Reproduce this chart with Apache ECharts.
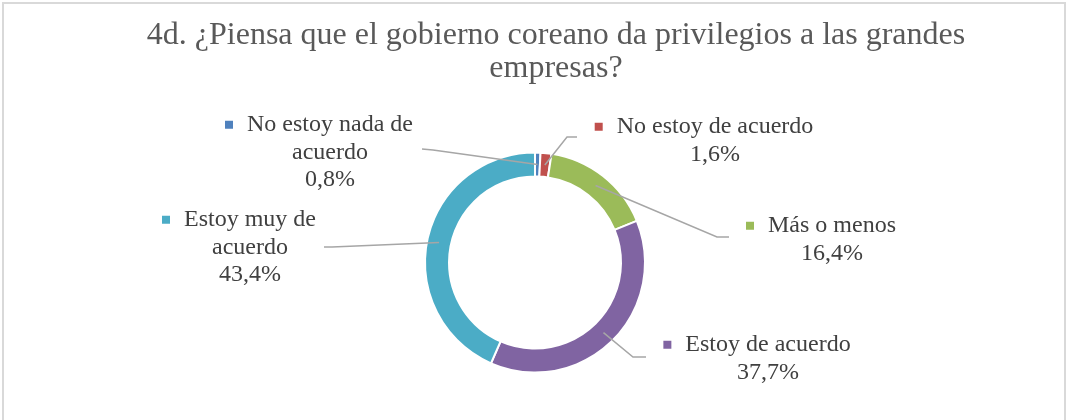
<!DOCTYPE html>
<html>
<head>
<meta charset="utf-8">
<script src="https://cdn.jsdelivr.net/npm/echarts@6/dist/echarts.min.js"></script>
<style>
  html, body { margin: 0; padding: 0; background: #fff; }
  #chart { width: 1067px; height: 420px; }
</style>
</head>
<body>
<div id="chart"></div>
<script>
  // 数据
  var categories = ['No estoy nada de acuerdo', 'No estoy de acuerdo', 'Más o menos', 'Estoy de acuerdo', 'Estoy muy de acuerdo'];
  var values = [0.8, 1.6, 16.4, 37.7, 43.4];
  // how each category name wraps in the label
  var nameLines = [['No estoy nada de', 'acuerdo'], ['No estoy de acuerdo'], ['Más o menos'], ['Estoy de acuerdo'], ['Estoy muy de', 'acuerdo']];
  var colors = ['#4F81BD', '#C0504D', '#9BBB59', '#8064A2', '#4BACC6'];

  // label placement: text centre x, text top y, leader bend + end
  var labelSpots = [
    { x: 330, y: 111, bend: [433, 150], end: [422, 149] },
    { x: 715, y: 113, bend: [567, 137], end: [577, 137] },
    { x: 832, y: 212, bend: [717, 237], end: [729, 237] },
    { x: 768, y: 331, bend: [633, 357], end: [646, 357] },
    { x: 250, y: 206, bend: [332, 247], end: [324, 247] }
  ];

  var CX = 535, CY = 262.5, R_IN = 86, R_OUT = 110;

  var ringData = categories.map(function (name, i) {
    return { name: name, value: values[i], itemStyle: { color: colors[i] } };
  });

  var labelData = categories.map(function (name, i) {
    var txt = nameLines[i].map(function (l, k) {
      return k === 0 ? '{sq|}{g|}{t|' + l + '}{pad|}' : '{t|' + l + '}';
    });
    txt.push('{t|' + values[i].toFixed(1).replace('.', ',') + '%}');
    return {
      name: name,
      value: values[i],
      label: {
        formatter: txt.join('\n'),
        rich: {
          sq: { width: 8, height: 8, backgroundColor: colors[i], verticalAlign: 'middle' },
          g: { width: 14 },
          pad: { width: 22 },
          t: { fontSize: 24, lineHeight: 27.5, color: '#404040', fontFamily: 'Liberation Serif' }
        }
      }
    };
  });

  var chart = echarts.init(document.getElementById('chart'));
  chart.setOption({
    animation: false,
    graphic: [{
      type: 'rect',
      shape: { x: 3, y: 3, width: 1062, height: 430 },
      style: { fill: 'none', stroke: '#d9d9d9', lineWidth: 2 },
      silent: true
    }],
    title: {
      text: '4d. ¿Piensa que el gobierno coreano da privilegios a las grandes\nempresas?',
      left: 556,
      top: 19,
      padding: 0,
      textAlign: 'center',
      textStyle: {
        fontFamily: 'Liberation Serif',
        fontWeight: 'normal',
        fontSize: 32,
        lineHeight: 33,
        color: '#595959'
      }
    },
    series: [{
      // 圆环
      type: 'pie',
      silent: true,
      z: 2,
      center: [CX, CY],
      radius: [R_IN, R_OUT],
      startAngle: 90,
      clockwise: true,
      itemStyle: { borderColor: '#fff', borderWidth: 2 },
      label: { show: false },
      labelLine: { show: false },
      data: ringData
    }, {
      // labels + leader lines drawn over the ring
      type: 'pie',
      silent: true,
      z: 5,
      center: [CX, CY],
      radius: [R_IN, R_OUT],
      startAngle: 90,
      clockwise: true,
      avoidLabelOverlap: false,
      itemStyle: { color: 'rgba(0,0,0,0)', borderWidth: 0 },
      label: { show: true, position: 'outside' },
      labelLine: { show: true, showAbove: true, lineStyle: { color: '#a6a6a6', width: 1.5 } },
      labelLayout: function (params) {
        var s = labelSpots[params.dataIndex];
        var p0 = params.labelLinePoints ? params.labelLinePoints[0] : [CX, CY - R_OUT];
        var k = (R_IN + R_OUT) / 2 / R_OUT;
        var start = [CX + (p0[0] - CX) * k, CY + (p0[1] - CY) * k];
        return {
          x: s.x,
          y: s.y,
          align: 'center',
          verticalAlign: 'top',
          labelLinePoints: [start, s.bend, s.end]
        };
      },
      data: labelData
    }]
  });
</script>
</body>
</html>
